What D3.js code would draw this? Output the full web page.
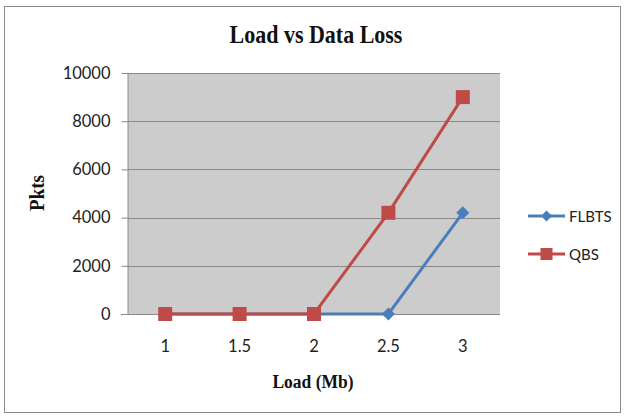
<!DOCTYPE html>
<html>
<head>
<meta charset="utf-8">
<script src="https://cdn.jsdelivr.net/npm/d3@7"></script>
<style>
  html, body { margin: 0; padding: 0; background: #fff; }
  svg { display: block; }
</style>
</head>
<body>
<svg id="chart" width="626" height="417"></svg>
<script>
// Chart data
const loads = ["1", "1.5", "2", "2.5", "3"];
const flbts = [0, 0, 0, 0, 4200];
const qbs = [0, 0, 0, 4200, 9000];
const yTicks = [0, 2000, 4000, 6000, 8000, 10000];
const seriesNames = ["FLBTS", "QBS"];
const seriesColors = ["#4a7ebb", "#be4b48"];

const svg = d3.select("#chart");
const plot = { left: 128, right: 500, top: 73, bottom: 314 };
const tickFont = "Lato, 'Open Sans', sans-serif";
const titleFont = "'Liberation Serif', 'Times New Roman', serif";

// Outer frame
svg.append("rect")
  .attr("x", 4.5).attr("y", 6.5)
  .attr("width", 616).attr("height", 406)
  .attr("fill", "#fff").attr("stroke", "#8c8c8c").attr("stroke-width", 1);

const x = d3.scaleBand().domain(loads).range([plot.left, plot.right]);
const y = d3.scaleLinear().domain([0, 10000]).range([plot.bottom, plot.top]);

// Plot background
svg.append("rect")
  .attr("x", plot.left).attr("y", plot.top)
  .attr("width", plot.right - plot.left).attr("height", plot.bottom - plot.top)
  .attr("fill", "#cccccc");

// Horizontal gridlines
svg.append("g").selectAll("line").data(yTicks.filter(d => d > 0)).join("line")
  .attr("x1", plot.left).attr("x2", plot.right)
  .attr("y1", d => Math.round(y(d)) + 0.5).attr("y2", d => Math.round(y(d)) + 0.5)
  .attr("stroke", "#8a8a8a").attr("stroke-width", 1);

// Y axis
const yAxis = svg.append("g")
  .attr("transform", `translate(${plot.left + 0.5},0)`)
  .call(d3.axisLeft(y).tickValues(yTicks).tickSize(7).tickPadding(11).tickFormat(d3.format("d")));
yAxis.select(".domain").attr("stroke", "#8a8a8a").attr("d", `M-0.5,${plot.top}V${plot.bottom}`);
yAxis.selectAll(".tick line").attr("stroke", "#8a8a8a");
yAxis.selectAll("text").attr("font-family", tickFont)
  .attr("font-size", 16.5).attr("fill", "#222");

// X axis
const xAxis = svg.append("g")
  .attr("transform", `translate(0,${plot.bottom + 0.5})`)
  .call(d3.axisBottom(x).tickSize(0).tickPadding(26));
xAxis.select(".domain").attr("stroke", "#8a8a8a").attr("d", `M${plot.left - 7},0H${plot.right}`);
xAxis.selectAll("text").attr("font-family", tickFont)
  .attr("font-size", 16.5).attr("fill", "#222");

// Series lines and markers
const cx = d => x(d) + x.bandwidth() / 2;
const allSeries = [flbts, qbs];
const line = d3.line().x((d, i) => cx(loads[i])).y(d => y(d));

function marker(g, kind, color, size) {
  if (kind === 0) {
    const h = size / 2;
    g.append("path").attr("d", `M0,${-h}L${h},0L0,${h}L${-h},0Z`).attr("fill", color);
  } else {
    g.append("rect").attr("x", -size / 2).attr("y", -size / 2)
      .attr("width", size).attr("height", size).attr("fill", color);
  }
}

allSeries.forEach((vals, s) => {
  svg.append("path").datum(vals)
    .attr("d", line).attr("fill", "none")
    .attr("stroke", seriesColors[s]).attr("stroke-width", 3);
  vals.forEach((v, i) => {
    const g = svg.append("g").attr("transform", `translate(${cx(loads[i])},${y(v)})`);
    marker(g, s, seriesColors[s], s === 0 ? 13 : 14);
  });
});

// Title and axis titles
svg.append("text").attr("transform", "translate(316,43) scale(1,1.15)")
  .attr("text-anchor", "middle")
  .attr("font-family", titleFont)
  .attr("font-weight", "bold").attr("font-size", 22).attr("fill", "#111")
  .text("Load vs Data Loss");

svg.append("text").attr("transform", "translate(313,388) scale(1,1.1)")
  .attr("text-anchor", "middle")
  .attr("font-family", titleFont)
  .attr("font-weight", "bold").attr("font-size", 17.5).attr("fill", "#111")
  .text("Load (Mb)");

svg.append("text").attr("transform", "translate(44,193) rotate(-90) scale(1,1.1)")
  .attr("text-anchor", "middle")
  .attr("font-family", titleFont)
  .attr("font-weight", "bold").attr("font-size", 19).attr("fill", "#111")
  .text("Pkts");

// Legend
const legend = svg.append("g");
seriesNames.forEach((name, s) => {
  const ly = 216 + s * 38;
  legend.append("line").attr("x1", 528).attr("x2", 565).attr("y1", ly).attr("y2", ly)
    .attr("stroke", seriesColors[s]).attr("stroke-width", 3);
  const g = legend.append("g").attr("transform", `translate(546.5,${ly})`);
  marker(g, s, seriesColors[s], s === 0 ? 11 : 12);
  legend.append("text").attr("x", 569).attr("y", ly + 5.5)
    .attr("font-family", tickFont)
    .attr("font-size", 15).attr("fill", "#222").text(name);
});
</script>
</body>
</html>
